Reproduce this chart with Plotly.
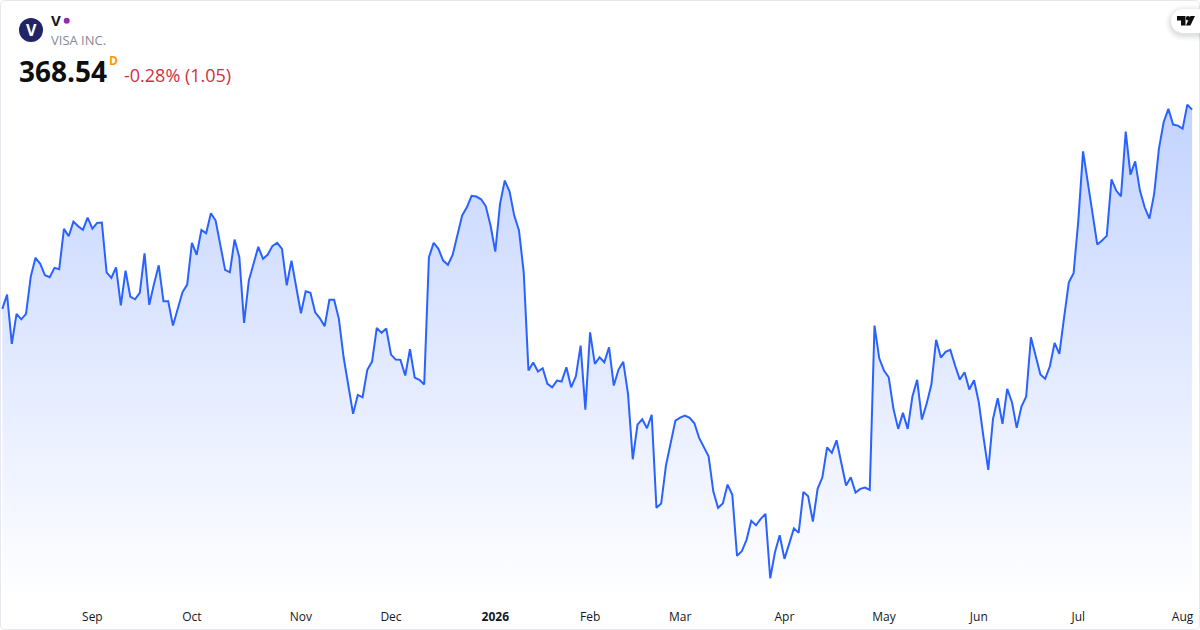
import plotly.graph_objects as go

WIDTH = 1200
HEIGHT = 630

# daily closes
prices = [
    326.69, 329.69, 319.34, 325.64, 324.50, 325.64, 333.47, 337.40, 336.14, 333.74,
    333.32, 335.30, 335.00, 343.49, 341.93, 345.02, 344.03, 343.28, 345.86, 343.55,
    344.75, 344.81, 334.37, 333.20, 335.42, 327.44, 334.73, 329.27, 328.70, 330.05,
    338.36, 327.53, 331.94, 335.84, 328.28, 328.28, 323.18, 326.48, 330.17, 331.79,
    340.55, 338.03, 343.28, 342.56, 346.76, 345.23, 339.62, 334.88, 334.37, 341.24,
    337.52, 323.75, 332.63, 335.99, 339.71, 337.19, 338.09, 339.92, 340.55, 339.29,
    331.64, 336.83, 331.22, 325.76, 330.38, 330.05, 325.97, 324.71, 323.03, 328.58,
    328.58, 324.59, 316.52, 310.94, 304.64, 308.63, 308.12, 313.88, 315.62, 322.70,
    321.65, 322.55, 317.09, 316.04, 315.98, 312.68, 318.20, 312.26, 311.78, 310.79,
    337.52, 340.55, 339.29, 336.83, 335.93, 338.03, 342.44, 346.28, 348.02, 350.42,
    350.27, 349.70, 348.23, 344.18, 338.72, 348.74, 353.63, 351.38, 346.28, 343.13,
    334.37, 313.73, 315.41, 313.52, 314.21, 310.94, 310.22, 311.63, 311.42, 314.42,
    310.22, 312.53, 318.98, 305.54, 321.77, 315.14, 316.52, 315.47, 318.62, 310.58,
    313.94, 315.56, 308.84, 295.10, 302.39, 303.50, 301.61, 304.43, 284.90, 285.80,
    293.78, 298.67, 303.23, 303.86, 304.28, 303.80, 302.66, 299.60, 297.77, 295.73,
    288.32, 284.90, 285.80, 289.79, 287.63, 274.82, 275.78, 278.18, 282.17, 281.24,
    282.59, 283.64, 270.11, 275.57, 279.14, 274.19, 277.34, 280.61, 279.65, 288.26,
    287.33, 282.02, 288.89, 291.32, 297.62, 296.45, 299.09, 294.47, 289.58, 291.32,
    288.11, 288.89, 289.16, 288.68, 323.18, 316.31, 313.73, 312.32, 305.69, 301.49,
    304.85, 301.49, 308.27, 311.78, 303.44, 306.74, 310.79, 320.18, 316.46, 317.66,
    318.08, 314.78, 311.84, 313.37, 309.74, 311.69, 307.07, 299.72, 292.88, 303.59,
    307.91, 302.54, 309.89, 307.07, 301.70, 306.17, 308.27, 320.72, 316.88, 312.89,
    311.99, 314.63, 319.55, 317.24, 324.92, 332.27, 334.16, 345.23, 359.78, 353.06,
    346.28, 340.19, 341.03, 342.02, 353.90, 351.53, 350.33, 363.92, 354.89, 357.68,
    351.53, 348.02, 345.65, 350.84, 360.29, 365.87, 368.69, 365.39, 365.18, 364.55,
    369.59, 368.54,
]

# trading day index where each month starts
tick_days = [19, 40, 63, 82, 104, 124, 143, 165, 186, 206, 227, 249]
tick_labels = ["Sep", "Oct", "Nov", "Dec", "<b>2026</b>", "Feb", "Mar", "Apr", "May", "Jun", "Jul", "Aug"]

FONT = "Open Sans"
BLUE = "#2962ff"
days = list(range(len(prices)))


def px(x):
    return x / WIDTH


def py(y):
    return 1 - y / HEIGHT


def path(*points, close=True):
    parts = [f"{'M' if i == 0 else 'L'}{px(x):.5f},{py(y):.5f}" for i, (x, y) in enumerate(points)]
    return " ".join(parts) + (" Z" if close else "")


def label(x, y, text, size, color, anchor="left", bold=False):
    return dict(
        xref="paper", yref="paper", x=px(x), y=py(y), text=f"<b>{text}</b>" if bold else text,
        showarrow=False, xanchor=anchor, yanchor="middle", borderpad=0, borderwidth=0,
        font=dict(family=FONT, size=size, color=color),
    )


def circle(cx, cy, r, color):
    return dict(
        type="circle", xref="paper", yref="paper", x0=px(cx - r), x1=px(cx + r),
        y0=py(cy + r), y1=py(cy - r), fillcolor=color, line_width=0,
    )


def rounded(x0, y0, x1, y1, r):
    k = r * 0.45
    return (
        f"M{px(x0 + r):.5f},{py(y0):.5f} L{px(x1 - r):.5f},{py(y0):.5f} "
        f"C{px(x1 - k):.5f},{py(y0):.5f} {px(x1):.5f},{py(y0 + k):.5f} {px(x1):.5f},{py(y0 + r):.5f} "
        f"L{px(x1):.5f},{py(y1 - r):.5f} "
        f"C{px(x1):.5f},{py(y1 - k):.5f} {px(x1 - k):.5f},{py(y1):.5f} {px(x1 - r):.5f},{py(y1):.5f} "
        f"L{px(x0 + r):.5f},{py(y1):.5f} "
        f"C{px(x0 + k):.5f},{py(y1):.5f} {px(x0):.5f},{py(y1 - k):.5f} {px(x0):.5f},{py(y1 - r):.5f} "
        f"L{px(x0):.5f},{py(y0 + r):.5f} "
        f"C{px(x0):.5f},{py(y0 + k):.5f} {px(x0 + k):.5f},{py(y0):.5f} {px(x0 + r):.5f},{py(y0):.5f} Z"
    )


fig = go.Figure()

fig.add_trace(
    go.Scatter(
        x=days,
        y=prices,
        mode="lines",
        line=dict(color=BLUE, width=2),
        fill="tozeroy",
        fillgradient=dict(
            type="vertical",
            start=265.55,
            stop=369.59,
            colorscale=[[0, "rgba(41,98,255,0)"], [1, "rgba(41,98,255,0.28)"]],
        ),
        hoverinfo="skip",
        showlegend=False,
    )
)

shapes = [
    # card border
    dict(type="path", xref="paper", yref="paper", path=rounded(0.5, 0.5, 1199.5, 629.5, 4),
         line=dict(color="#e6e8ee", width=1), fillcolor="rgba(0,0,0,0)"),
    circle(31, 30, 12, "#1f2565"),
    circle(66.7, 20.7, 3, "#9c27b0"),
]

# soft shadow then white pill behind the logo
for grow, alpha in [(6, 0.012), (5, 0.014), (4, 0.016), (3, 0.02), (2, 0.025), (1, 0.03)]:
    shapes.append(
        dict(type="path", xref="paper", yref="paper", line_width=0,
             path=rounded(1171 - grow, 9 - grow + 2, 1215, 33 + grow + 2, 12 + grow),
             fillcolor=f"rgba(19,23,34,{alpha})")
    )
shapes.append(
    dict(type="path", xref="paper", yref="paper", line_width=0,
         path=rounded(1171, 9, 1215, 33, 12), fillcolor="white")
)
shapes += [
    dict(type="path", xref="paper", yref="paper", line_width=0, fillcolor="#0f0f0f",
         path=path((1177, 16), (1185.5, 16), (1185.5, 25.5), (1181, 25.5), (1181, 20.5), (1177, 20.5))),
    circle(1188, 18.2, 2.2, "#0f0f0f"),
    dict(type="path", xref="paper", yref="paper", line_width=0, fillcolor="#0f0f0f",
         path=path((1190.5, 16), (1195, 16), (1190.4, 25.5), (1185.8, 25.5))),
]

annotations = [
    label(31, 30, "V", 16, "white", anchor="center", bold=True),
    label(51, 20.5, "V", 15, "#131722", bold=True),
    label(51, 40.5, "VISA INC.", 13, "#868993"),
    label(19, 71, "368.54", 28, "#0f0f0f", bold=True),
    label(109, 61, "D", 12, "#ff9800", bold=True),
    label(124, 74.5, "-0.28% (1.05)", 18, "#d32f45"),
]

fig.update_layout(
    width=WIDTH,
    height=HEIGHT,
    margin=dict(l=0, r=0, t=0, b=0),
    paper_bgcolor="white",
    plot_bgcolor="white",
    font=dict(family=FONT, color="#131722"),
    xaxis=dict(
        range=[-0.49, 252.67],
        tickmode="array",
        tickvals=tick_days,
        ticktext=tick_labels,
        tickfont=dict(family=FONT, size=12, color="#131722"),
        showgrid=False,
        zeroline=False,
        showline=False,
        ticks="outside",
        ticklen=6,
        tickcolor="rgba(0,0,0,0)",
    ),
    yaxis=dict(
        domain=[30 / HEIGHT, 1],
        range=[265.55, 391.55],
        showgrid=False,
        zeroline=False,
        showline=False,
        showticklabels=False,
    ),
    shapes=shapes,
    annotations=annotations,
)

fig.write_html(
    "out.html",
    config={"displayModeBar": False},
    post_script="document.body.style.margin='0';",
)
